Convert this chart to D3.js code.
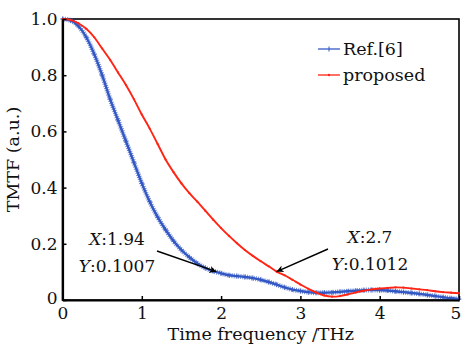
<!DOCTYPE html>
<html>
<head>
<meta charset="utf-8">
<script src="https://cdn.jsdelivr.net/npm/d3@7/dist/d3.min.js"></script>
<style>
  html, body { margin: 0; padding: 0; background: #fff; }
  svg { display: block; }
  text { font-family: "DejaVu Serif", serif; fill: #111; }
</style>
</head>
<body>
<svg id="chart" width="462" height="344"></svg>
<script>
// ---- data ----
const freq = [0,0.1,0.2,0.3,0.4,0.5,0.6,0.7,0.8,0.9,1.0,1.1,1.2,1.3,1.4,1.5,1.6,1.7,1.8,1.9,
              2.0,2.1,2.2,2.3,2.4,2.5,2.6,2.7,2.8,2.9,3.0,3.1,3.2,3.3,3.4,3.5,3.6,3.7,3.8,3.9,
              4.0,4.1,4.2,4.3,4.4,4.5,4.6,4.7,4.8,4.9,5.0];
const refValues = [1.0,0.995,0.975,0.935,0.875,0.80,0.715,0.64,0.565,0.49,0.415,0.35,0.295,0.25,0.21,0.178,0.152,0.13,0.114,0.103,
                   0.095,0.088,0.085,0.082,0.078,0.072,0.064,0.055,0.045,0.037,0.032,0.028,0.026,0.026,0.027,0.029,0.031,0.033,0.035,0.036,
                   0.035,0.034,0.031,0.028,0.025,0.022,0.018,0.014,0.010,0.006,0.003];
const proposedValues = [1.0,0.997,0.985,0.965,0.935,0.895,0.855,0.81,0.765,0.715,0.66,0.61,0.555,0.50,0.455,0.415,0.38,0.35,0.318,0.286,
                        0.256,0.228,0.202,0.178,0.157,0.138,0.12,0.1012,0.088,0.072,0.055,0.04,0.026,0.016,0.012,0.014,0.02,0.027,0.033,0.038,
                        0.041,0.043,0.045,0.044,0.041,0.038,0.035,0.031,0.028,0.026,0.024];
const xTicks = [0,1,2,3,4,5];
const xTickLabels = ["0","1","2","3","4","5"];
const yTicks = [0,0.2,0.4,0.6,0.8,1.0];
const yTickLabels = ["0","0.2","0.4","0.6","0.8","1.0"];
const seriesNames = ["Ref.[6]","proposed"];
const annotations = [
  {x:1.94, y:0.1007, lines:["X:1.94","Y:0.1007"]},
  {x:2.7,  y:0.1012, lines:["X:2.7","Y:0.1012"]}
];

// ---- layout ----
const W = 462, H = 344;
const m = {left:62.5, right:3, top:19, bottom:44};
const svg = d3.select("#chart");
const x = d3.scaleLinear().domain([0,5]).range([m.left, W - m.right]);
const y = d3.scaleLinear().domain([0,1]).range([H - m.bottom, m.top]);
const blue = "#3358c4", red = "#ff2414";

// frame
svg.append("rect").attr("x", x(0)).attr("y", y(1)).attr("width", x(5)-x(0)).attr("height", y(0)-y(1))
  .attr("fill","none").attr("stroke","#000").attr("stroke-width",1.6);

// curves
const line = d3.line().x(d=>x(d[0])).y(d=>y(d[1])).curve(d3.curveMonotoneX);
const refData = freq.map((f,i)=>[f, refValues[i]]);
const propData = freq.map((f,i)=>[f, proposedValues[i]]);

const g = svg.append("g");
g.append("path").datum(refData).attr("d", line).attr("fill","none")
  .attr("stroke", blue).attr("stroke-opacity",0.7).attr("stroke-width",5).attr("stroke-dasharray","1 1.2");
g.append("path").datum(refData).attr("d", line).attr("fill","none")
  .attr("stroke", blue).attr("stroke-width",2.4);
g.selectAll("path.plus").data(refData).enter().append("path")
  .attr("d", d=>`M${x(d[0])-2.5},${y(d[1])}h5M${x(d[0])},${y(d[1])-2.5}v5`)
  .attr("stroke", blue).attr("stroke-width",1).attr("stroke-opacity",0.75);
g.append("path").datum(propData).attr("d", line).attr("fill","none")
  .attr("stroke", red).attr("stroke-width",1.9);
g.selectAll("circle.dot").data(propData).enter().append("circle")
  .attr("cx", d=>x(d[0])).attr("cy", d=>y(d[1])).attr("r",1.1).attr("fill", red);

// axes (inward ticks)
const xAxis = svg.append("g").attr("transform",`translate(0,${y(0)})`)
  .call(d3.axisBottom(x).tickValues(xTicks).tickFormat((d,i)=>xTickLabels[i]).tickSizeInner(-4).tickSizeOuter(0).tickPadding(7));
const yAxis = svg.append("g").attr("transform",`translate(${x(0)},0)`)
  .call(d3.axisLeft(y).tickValues(yTicks).tickFormat((d,i)=>yTickLabels[i]).tickSizeInner(-4).tickSizeOuter(0).tickPadding(5));
[xAxis,yAxis].forEach(a=>{
  a.select(".domain").attr("stroke","#000").attr("stroke-width",2.2);
  a.selectAll(".tick line").attr("stroke","#000").attr("stroke-width",1.5);
  a.selectAll(".tick text").style("font-family","DejaVu Serif, serif").style("font-size","17px").attr("fill","#111");
});
xAxis.selectAll(".tick text").attr("dy","0.72em");
xAxis.selectAll(".tick text").filter(d=>d===5).attr("dx","-3.5");
yAxis.selectAll(".tick text").filter(d=>d===0).attr("dy","0.2em");

// axis titles
svg.append("text").attr("x", (x(0)+x(5))/2).attr("y", 340).attr("text-anchor","middle")
  .style("font-size","17.5px").text("Time frequency /THz");
svg.append("text").attr("transform",`translate(19,${(y(0)+y(1))/2}) rotate(-90)`).attr("text-anchor","middle")
  .style("font-size","17.5px").text("TMTF (a.u.)");

// legend
const leg = svg.append("g");
[[blue, 49], [red, 75]].forEach((c,i)=>{
  leg.append("line").attr("x1",318).attr("x2",340).attr("y1",c[1]).attr("y2",c[1]).attr("stroke",c[0]).attr("stroke-width",1.3);
  if(i===0) leg.append("path").attr("d",`M329,${c[1]-2.5}v5`).attr("stroke",c[0]).attr("stroke-width",1);
  else leg.append("circle").attr("cx",329).attr("cy",c[1]).attr("r",1.2).attr("fill",c[0]);
  leg.append("text").attr("x",343).attr("y",c[1]+6).style("font-size","17.5px").text(seriesNames[i]);
});

// annotations
const annPos = [
  {tx:117, ty:245, from:[157,251]},
  {tx:370, ty:243, from:[328,249]}
];
const defs = svg.append("defs");
defs.append("marker").attr("id","ah").attr("viewBox","0 0 10 10").attr("refX",10).attr("refY",5)
  .attr("markerWidth",7).attr("markerHeight",7).attr("markerUnits","userSpaceOnUse").attr("orient","auto")
  .append("path").attr("d","M0,0L10,5L0,10L3,5Z").attr("fill","#000");
annotations.forEach((a,i)=>{
  const p = annPos[i];
  const t = svg.append("text").attr("text-anchor","middle").style("font-size","17px");
  a.lines.forEach((ln,j)=>{
    const ts = t.append("tspan").attr("x",p.tx).attr("y",p.ty + j*27);
    ts.append("tspan").style("font-style","italic").text(ln.slice(0,1));
    ts.append("tspan").text(ln.slice(1));
  });
  svg.append("line").attr("x1",p.from[0]).attr("y1",p.from[1]).attr("x2",x(a.x)).attr("y2",y(a.y))
    .attr("stroke","#000").attr("stroke-width",1.4).attr("marker-end","url(#ah)");
});
</script>
</body>
</html>
